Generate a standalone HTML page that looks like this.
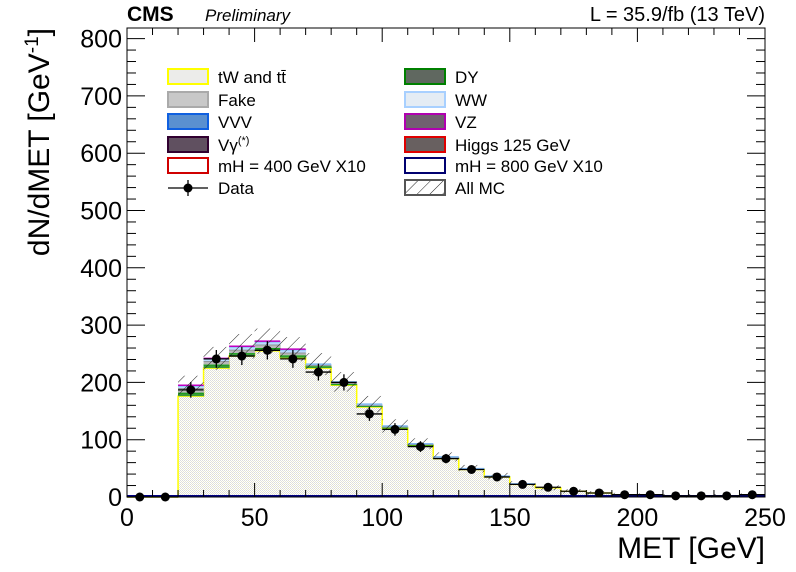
<!DOCTYPE html>
<html><head><meta charset="utf-8"><style>
body{margin:0;background:#fff}svg{display:block}
text{font-family:"Liberation Sans",Arial,sans-serif}
</style></head><body>
<svg id="c" width="796" height="572">
<defs>
<pattern id="hatch" width="9" height="9" patternUnits="userSpaceOnUse" patternTransform="rotate(45)"><line x1="0" y1="0" x2="0" y2="9" stroke="#222" stroke-width="1"/></pattern>
<pattern id="dots" width="2" height="2" patternUnits="userSpaceOnUse"><rect width="2" height="2" fill="#fff"/><rect width="1" height="1" fill="#dcdcdc"/><rect x="1" y="1" width="1" height="1" fill="#e6e6d0"/></pattern>
</defs>
<g id="plot"></g>
</svg>
<script>
const binLo=[0,10,20,30,40,50,60,70,80,90,100,110,120,130,140,150,160,170,180,190,200,210,220,230,240];
const tt=[0,0,176,225,246,255,243,225,195,157,120,90,67,48,35,22,16,10,7,4,3,2,2,2,3];
const dy=[0,0,6,6,5,5,4,3,2,2,1,1,1,0.5,0.5,0,0,0,0,0,0,0,0,0,0];
const fake=[0,0,8,6,6,6,5,2,2,1,2,1,1,0.5,0.5,0.5,0,0,0,0,0,0,0,0,0];
const ww=[0,0,4,4,5,5,5,2,2,2,1,1,1,0.5,0.5,0.5,0,0,0,0,0,0,0,0,0];
const vz=[0,0,1,1,1,1,1,0,0,0,0,0,0,0,0,0,0,0,0,0,0,0,0,0,0];
const dataVals=[0,0,187,241,246,256,241,218,200,145,118,88,67,48,35,22,17,10,7,4,4,2,2,2,4];
const yTicks=[0,100,200,300,400,500,600,700,800];
const xTicks=[0,50,100,150,200,250];
const NS="http://www.w3.org/2000/svg";
const X0=127,X1=765,Y0=497,YT=28;
const xs=v=>X0+(v/250)*(X1-X0);
const ys=v=>Y0-v*0.573;
const g=document.getElementById('plot');
function mk(t,a,p){const e=document.createElementNS(NS,t);for(const k in a)e.setAttribute(k,a[k]);(p||g).appendChild(e);return e;}
const layers=[[tt,'url(#dots)','#ffff00','tt'],[dy,'#3a9a3a','#00a000','dy'],[fake,'#b8b8b8','#888','fake'],[ww,'#bcdcff','#80b8f0','ww'],[vz,'#d040d0','#c000c0','vz']];
const cum=binLo.map(()=>0);
layers.forEach(([arr,fill,stroke,nm])=>{
 let d='';
 binLo.forEach((b,i)=>{
  const lo=cum[i],hi=cum[i]+arr[i];
  if(arr[i]>0){
   const r=mk('rect',{x:xs(b),y:ys(hi),width:xs(b+10)-xs(b)+0.5,height:ys(lo)-ys(hi),fill:fill});
   
   
   if(nm!=='tt')mk('line',{x1:xs(b),x2:xs(b+10),y1:ys(hi),y2:ys(hi),stroke:stroke,'stroke-width':1.5});
  }
  if(nm==='tt')d+=(i===0?'M':'L')+xs(b)+','+ys(hi)+'L'+xs(b+10)+','+ys(hi);
  cum[i]=hi;
 });
 if(d)mk('path',{d:d,fill:'none',stroke:stroke,'stroke-width':1.5});
});
binLo.forEach((b,i)=>{
 if(cum[i]<=0)return;
 const e=cum[i]*0.07+3;
 const r=mk('rect',{x:xs(b),y:ys(cum[i]+e),width:xs(b+10)-xs(b),height:ys(cum[i]-e)-ys(cum[i]+e),fill:'url(#hatch)'});
 
 
});
mk('line',{x1:X0,x2:X1,y1:Y0-1,y2:Y0-1,stroke:'#000080','stroke-width':2});
binLo.forEach((b,i)=>{
 const cx=xs(b+5),cy=ys(dataVals[i]);
 mk('line',{x1:xs(b),x2:xs(b+10),y1:cy,y2:cy,stroke:'#000','stroke-width':1.3});
 const er=Math.sqrt(dataVals[i])*0.573;
 if(er>0)mk('line',{x1:cx,x2:cx,y1:cy-er,y2:cy+er,stroke:'#000','stroke-width':1.3});
 const c=mk('circle',{cx:cx,cy:cy,r:4.5,fill:'#000'});
 
 
});
const fr=mk('rect',{x:X0,y:YT,width:X1-X0,height:Y0-YT,fill:'none',stroke:'#000','stroke-width':1});


yTicks.forEach(v=>{
 const y=ys(v);
 mk('line',{x1:X0,x2:X0+18,y1:y,y2:y,stroke:'#000'});
 mk('line',{x1:X1,x2:X1-18,y1:y,y2:y,stroke:'#000'});
 if(v<800){for(let k=1;k<5;k++){const yy=ys(v+k*20);mk('line',{x1:X0,x2:X0+9,y1:yy,y2:yy,stroke:'#000'});mk('line',{x1:X1,x2:X1-9,y1:yy,y2:yy,stroke:'#000'});}}
 const t=mk('text',{x:X0-5,y:y+9,'text-anchor':'end','font-size':25});t.textContent=v;
 
 
});
xTicks.forEach(v=>{
 const x=xs(v);
 mk('line',{x1:x,x2:x,y1:Y0,y2:Y0-14,stroke:'#000'});
 mk('line',{x1:x,x2:x,y1:YT,y2:YT+14,stroke:'#000'});
 if(v<250){for(let k=1;k<5;k++){const xx=xs(v+k*10);mk('line',{x1:xx,x2:xx,y1:Y0,y2:Y0-7,stroke:'#000'});mk('line',{x1:xx,x2:xx,y1:YT,y2:YT+7,stroke:'#000'});}}
 const t=mk('text',{x:x,y:526,'text-anchor':'middle','font-size':25});t.textContent=v;
 
 
});
let t=mk('text',{x:765,y:558,'text-anchor':'end','font-size':30});t.textContent='MET [GeV]';

t=mk('text',{x:0,y:0,'text-anchor':'end','font-size':30,transform:'translate(49,28) rotate(-90)'});
t.innerHTML='dN/dMET [GeV<tspan dy="-11" font-size="19">-1</tspan><tspan dy="11">]</tspan>';

t=mk('text',{x:127,y:21,'font-size':21,'font-weight':'bold'});t.textContent='CMS';

t=mk('text',{x:205,y:21,'font-size':17,'font-style':'italic'});t.textContent='Preliminary';

t=mk('text',{x:765,y:21,'font-size':20,'text-anchor':'end'});t.textContent='L = 35.9/fb (13 TeV)';

const leg=[
 [168,77,'tW and tt̄','#ececea','#ffff00'],[168,100,'Fake','#c8c8c8','#aaa'],[168,122,'VVV','#5a90d0','#1060e0'],[168,145,'Vγ(*)','#605060','#300030'],[168,166,'mH = 400 GeV X10','#fff','#d00000'],
 [405,77,'DY','#606860','#008000'],[405,100,'WW','#e4ecf4','#a8d0ff'],[405,122,'VZ','#706070','#b000b0'],[405,145,'Higgs 125 GeV','#686060','#e00000'],[405,166,'mH = 800 GeV X10','#fff','#000070'],[405,188,'All MC','url(#hatch)','#555']];
leg.forEach(([x,y,lab,f,s])=>{
 const r=mk('rect',{x:x,y:y-8,width:40,height:15,fill:f,stroke:s,'stroke-width':2});
 
 const tx=mk('text',{x:x+50,y:y+6,'font-size':17});
 if(lab==='Vγ(*)')tx.innerHTML='Vγ<tspan dy="-7" font-size="11">(*)</tspan>';else tx.textContent=lab;
 
});
mk('line',{x1:168,x2:208,y1:188,y2:188,stroke:'#000','stroke-width':1.3});
mk('line',{x1:188,x2:188,y1:180,y2:196,stroke:'#000','stroke-width':1.3});
mk('circle',{cx:188,cy:188,r:4.5,fill:'#000'});
t=mk('text',{x:218,y:194,'font-size':17});t.textContent='Data';

</script>
</body></html>
